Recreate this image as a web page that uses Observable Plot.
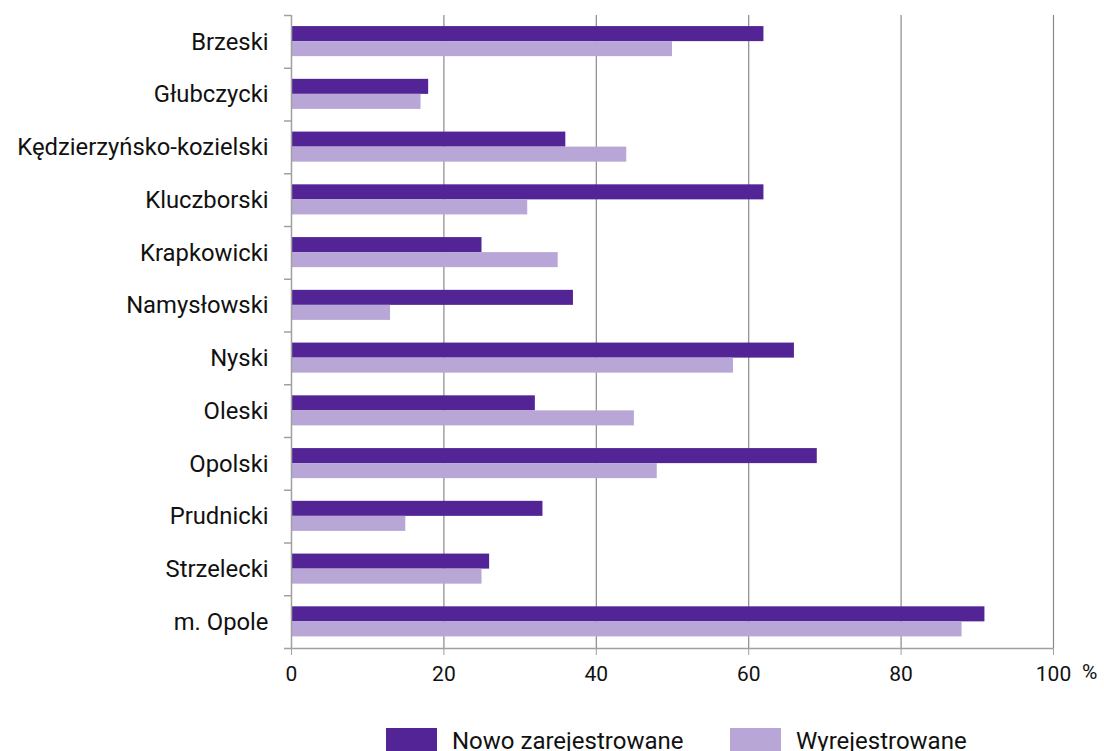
<!DOCTYPE html>
<html>
<head>
<meta charset="utf-8">
<script src="https://cdn.jsdelivr.net/npm/d3@7"></script>
<script src="https://cdn.jsdelivr.net/npm/@observablehq/plot@0.6"></script>
<style>
  html, body { margin: 0; padding: 0; background: #fff; }
  body { width: 1104px; font-family: Roboto, sans-serif; }
  #legend { position: relative; height: 51px; font-size: 24px; color: #111; }
  .sw { display: inline-block; width: 51px; height: 26px; }
</style>
</head>
<body>
<div id="chart"></div>
<div id="legend"></div>
<script>
const categories = ["Brzeski", "Głubczycki", "Kędzierzyńsko-kozielski", "Kluczborski", "Krapkowicki", "Namysłowski", "Nyski", "Oleski", "Opolski", "Prudnicki", "Strzelecki", "m. Opole"];
const nowoZarejestrowane = [62, 18, 36, 62, 25, 37, 66, 32, 69, 33, 26, 91];
const wyrejestrowane = [50, 17, 44, 31, 35, 13, 58, 45, 48, 15, 25, 88];
const seriesNames = ["Nowo zarejestrowane", "Wyrejestrowane"];
const seriesColors = ["#522496", "#b8a6d6"];
const xTicks = [0, 20, 40, 60, 80, 100];

const dark = categories.map((c, i) => ({category: c, value: nowoZarejestrowane[i]}));
const light = categories.map((c, i) => ({category: c, value: wyrejestrowane[i]}));

const H = 700, mt = 15, mb = 52;
const band = (H - mt - mb) / categories.length;

const chart = Plot.plot({
  width: 1104,
  height: H,
  marginLeft: 291,
  marginRight: 51,
  marginTop: mt,
  marginBottom: mb,
  style: {fontFamily: "Roboto, sans-serif", fontSize: "21px", color: "#111", background: "#fff"},
  x: {domain: [0, 100], ticks: xTicks, label: null},
  y: {domain: categories, padding: 0, round: false, label: null},
  marks: [
    Plot.ruleX(xTicks.slice(1), {stroke: "#8a8a8a", strokeWidth: 1.2}),
    Plot.barX(dark, {y: "category", x: "value", fill: seriesColors[0], insetTop: band * 0.21, insetBottom: band - band * 0.495}),
    Plot.barX(light, {y: "category", x: "value", fill: seriesColors[1], insetTop: band * 0.495, insetBottom: band - band * 0.78}),
    Plot.ruleX([0], {stroke: "#a0a0a0", strokeWidth: 1.5}),
    Plot.ruleY(categories, {y: d => d, dy: -band / 2, stroke: "#a0a0a0", strokeWidth: 1.5, insetLeft: -7, insetRight: 1104 - 291 - 51}),
    Plot.ruleY(categories.slice(-1), {y: d => d, dy: band / 2, stroke: "#a0a0a0", strokeWidth: 1.5, insetLeft: -7, insetRight: 0}),
    Plot.axisY({tickSize: 0, tickPadding: 23, fontSize: 23.8, label: null}),
    Plot.axisX({ticks: xTicks, tickSize: 7, tickPadding: 11, fontSize: 21, stroke: "#a0a0a0", label: null}),
    Plot.text(["%"], {frameAnchor: "bottom-right", dx: 44, dy: 30, fontSize: 21, fill: "#111"})
  ]
});
document.getElementById("chart").appendChild(chart);

const legend = document.getElementById("legend");
const positions = [386, 730];
seriesNames.forEach((name, i) => {
  const item = document.createElement("div");
  item.style.position = "absolute";
  item.style.left = positions[i] + "px";
  item.style.top = "27px";
  item.style.display = "flex";
  item.style.alignItems = "center";
  item.innerHTML = `<span class="sw" style="background:${seriesColors[i]}"></span><span style="margin-left:15px">${name}</span>`;
  legend.appendChild(item);
});
</script>
</body>
</html>
